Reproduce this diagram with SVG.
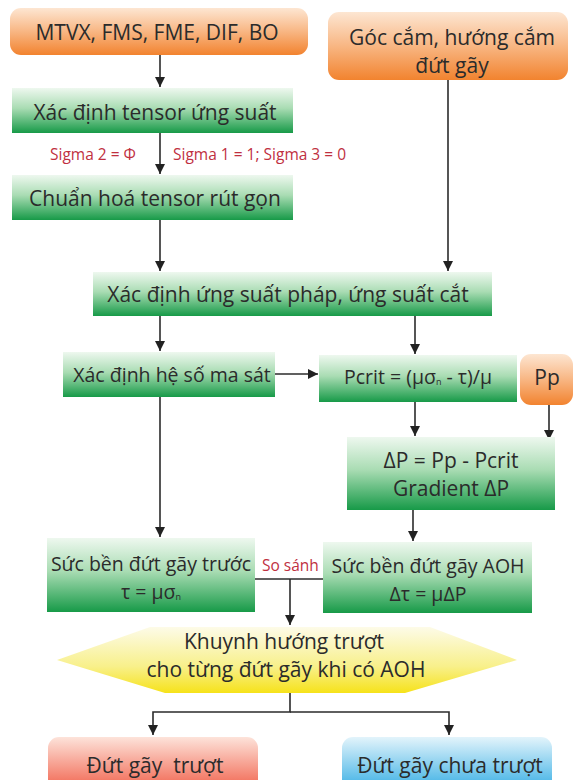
<svg xmlns="http://www.w3.org/2000/svg" width="574" height="780" viewBox="0 0 574 780">
<defs>
<linearGradient id="gGreen" x1="0" y1="0" x2="0" y2="1">
<stop offset="0" stop-color="#eef8ef"/><stop offset="0.45" stop-color="#a9dcb3"/><stop offset="1" stop-color="#179a48"/>
</linearGradient>
<linearGradient id="gOrange" x1="0" y1="0" x2="0" y2="1">
<stop offset="0" stop-color="#fde6d2"/><stop offset="0.5" stop-color="#f8b683"/><stop offset="1" stop-color="#f2832f"/>
</linearGradient>
<linearGradient id="gYellow" x1="0" y1="0" x2="0" y2="1">
<stop offset="0" stop-color="#fdfbe8"/><stop offset="0.6" stop-color="#f8f08a"/><stop offset="1" stop-color="#f6e21a"/>
</linearGradient>
<linearGradient id="gRed" x1="0" y1="0" x2="0" y2="1">
<stop offset="0" stop-color="#fde3da"/><stop offset="1" stop-color="#f0563f"/>
</linearGradient>
<linearGradient id="gBlue" x1="0" y1="0" x2="0" y2="1">
<stop offset="0" stop-color="#e3f4fb"/><stop offset="1" stop-color="#28a8e2"/>
</linearGradient>
<marker id="arr" viewBox="0 0 10 10" refX="10" refY="5" markerWidth="10" markerHeight="10" markerUnits="userSpaceOnUse" orient="auto">
<path d="M0,0 L10,5 L0,10 Z" fill="#222"/>
</marker>
</defs>
<style>
.t{font-family:"Open Sans","Noto Sans",sans-serif;font-size:21px;fill:#2b2b2b;text-anchor:middle;dominant-baseline:central}
.m{font-size:19.5px}
.s{font-family:"Open Sans","Noto Sans",sans-serif;font-size:15.5px;fill:#c0303f;dominant-baseline:central}
.c{stroke:#2b2b2b;stroke-width:1.6;fill:none}
.sub{font-size:9px}
.pre{white-space:pre}
</style>
<rect width="574" height="780" fill="#ffffff"/>
<g id="connectors">
<line class="c" x1="160" y1="55" x2="160" y2="87" marker-end="url(#arr)"/>
<line class="c" x1="160" y1="133" x2="160" y2="174" marker-end="url(#arr)"/>
<line class="c" x1="160" y1="220" x2="160" y2="271" marker-end="url(#arr)"/>
<line class="c" x1="448" y1="80" x2="448" y2="271" marker-end="url(#arr)"/>
<line class="c" x1="160" y1="316" x2="160" y2="351" marker-end="url(#arr)"/>
<line class="c" x1="415" y1="316" x2="415" y2="354" marker-end="url(#arr)"/>
<line class="c" x1="275" y1="374" x2="318" y2="374" marker-end="url(#arr)"/>
<line class="c" x1="160" y1="397" x2="160" y2="537" marker-end="url(#arr)"/>
<line class="c" x1="415" y1="402" x2="415" y2="436" marker-end="url(#arr)"/>
<line class="c" x1="549" y1="405" x2="549" y2="440" marker-end="url(#arr)"/>
<line class="c" x1="413" y1="510" x2="413" y2="541" marker-end="url(#arr)"/>
<line class="c" x1="255" y1="579" x2="323" y2="579"/>
<line class="c" x1="290" y1="579" x2="290" y2="625" marker-end="url(#arr)"/>
<polyline class="c" points="290,693 290,712 153,712 153,735" marker-end="url(#arr)"/>
<polyline class="c" points="290,712 449,712 449,735" marker-end="url(#arr)"/>
</g>
<g id="n_inputs">
<rect x="10" y="8" width="298" height="47" rx="11" fill="url(#gOrange)"/>
<text class="t" x="157" y="32">MTVX, FMS, FME, DIF, BO</text>
</g>
<g id="n_goccam">
<rect x="328" y="12" width="240" height="68" rx="11" fill="url(#gOrange)"/>
<text class="t" x="452" y="37">Góc cắm, hướng cắm</text>
<text class="t" x="452" y="65">đứt gãy</text>
</g>
<g id="n_tensor">
<rect x="12" y="88" width="281" height="45" fill="url(#gGreen)"/>
<text class="t" x="155" y="112">Xác định tensor ứng suất</text>
</g>
<g id="lbl_sigma">
<text class="s" x="50" y="154">Sigma 2 = Φ</text>
<text class="s" x="173" y="154">Sigma 1 = 1; Sigma 3 = 0</text>
</g>
<g id="n_chuanhoa">
<rect x="12" y="175" width="281" height="45" fill="url(#gGreen)"/>
<text class="t" x="155" y="198">Chuẩn hoá tensor rút gọn</text>
</g>
<g id="n_ungsuat">
<rect x="93" y="272" width="399" height="44" fill="url(#gGreen)"/>
<text class="t" x="288" y="294">Xác định ứng suất pháp, ứng suất cắt</text>
</g>
<g id="n_masat">
<rect x="63" y="352" width="212" height="45" fill="url(#gGreen)"/>
<text class="t m" x="172" y="374">Xác định hệ số ma sát</text>
</g>
<g id="n_pcrit">
<rect x="319" y="355" width="198" height="47" fill="url(#gGreen)"/>
<text class="t m" x="418" y="376">Pcrit = (μσ<tspan class="sub" dy="5">n</tspan><tspan dy="-5"> - τ)/μ</tspan></text>
</g>
<g id="n_pp">
<rect x="520" y="354" width="53" height="51" rx="11" fill="url(#gOrange)"/>
<text class="t" x="547" y="377">Pp</text>
</g>
<g id="n_deltap">
<rect x="347" y="437" width="208" height="73" fill="url(#gGreen)"/>
<text class="t" x="451" y="460">ΔP = Pp - Pcrit</text>
<text class="t" x="451" y="488">Gradient ΔP</text>
</g>
<g id="n_truoc">
<rect x="47" y="538" width="208" height="74" fill="url(#gGreen)"/>
<text class="t m" x="151" y="563">Sức bền đứt gãy trước</text>
<text class="t m" x="151" y="591">τ = μσ<tspan class="sub" dy="5">n</tspan></text>
</g>
<g id="lbl_sosanh">
<text class="s" x="262" y="565">So sánh</text>
</g>
<g id="n_aoh">
<rect x="323" y="542" width="209" height="71" fill="url(#gGreen)"/>
<text class="t m" x="428" y="565">Sức bền đứt gãy AOH</text>
<text class="t m" x="428" y="593">Δτ = μΔP</text>
</g>
<g id="n_khuynhhuong">
<polygon points="57,660 150,627 430,627 517,660 405,693 165,693" fill="url(#gYellow)"/>
<text class="t" x="284" y="641">Khuynh hướng trượt</text>
<text class="t" x="286" y="669">cho từng đứt gãy khi có AOH</text>
</g>
<g id="n_truot">
<rect x="48" y="737" width="210" height="58" rx="11" fill="url(#gRed)"/>
<text class="t pre" x="155" y="765">Đứt gãy  trượt</text>
</g>
<g id="n_chuatruot">
<rect x="342" y="737" width="210" height="58" rx="11" fill="url(#gBlue)"/>
<text class="t" x="450" y="765">Đứt gãy chưa trượt</text>
</g>
</svg>
